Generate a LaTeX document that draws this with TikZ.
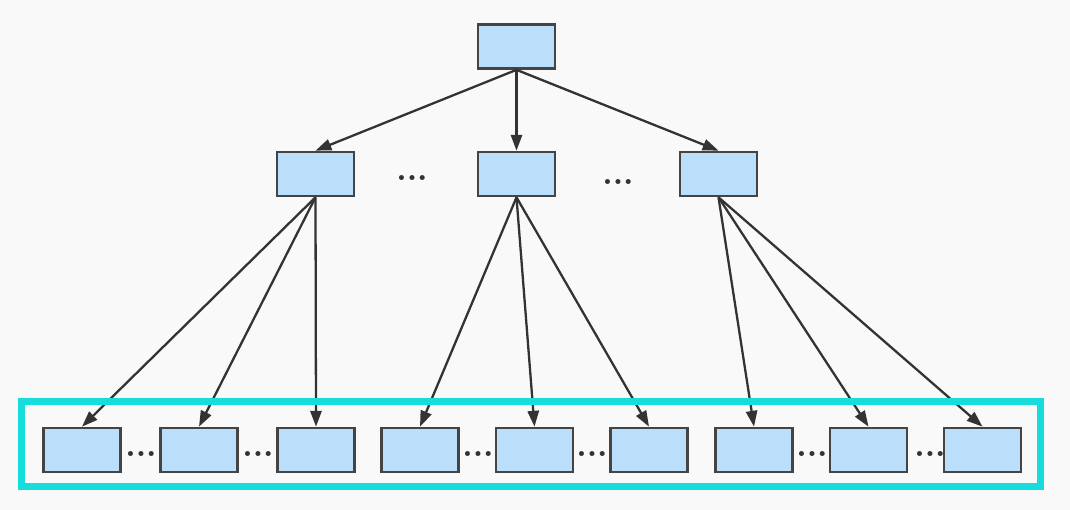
\documentclass[tikz,border=0pt]{standalone}
\usepackage{tikz}
\usetikzlibrary{arrows.meta,positioning}

\definecolor{bgcol}{RGB}{249,249,249}
\definecolor{boxfill}{RGB}{187,222,250}
\definecolor{boxline}{RGB}{68,68,68}
\definecolor{arrcol}{RGB}{51,51,51}
\definecolor{framecol}{RGB}{23,220,220}

\begin{document}
\begin{tikzpicture}[x=0.01cm, y=-0.01cm,
    blk/.style={draw=boxline, fill=boxfill, line width=0.75pt, minimum width=0.77cm, minimum height=0.44cm, inner sep=0pt},
    link/.style={-{Triangle[length=4.5pt, width=3.2pt]}, line width=0.65pt, arrcol},
    ellip/.style={font=\bfseries\small, text=arrcol, inner sep=0pt}]

    % Background
    \fill[bgcol] (0,0) rectangle (1070,510);
    \useasboundingbox (0,0) rectangle (1070,510);

    % Root
    \node[blk] (root) at (516.5,46.5) {};

    % Middle level
    \node[blk] (m1) at (315.5,174) {};
    \node[blk] (m2) at (516.5,174) {};
    \node[blk] (m3) at (718.5,174) {};
    \node[ellip] (d1) at (412,178) {...};
    \node[ellip] (d2) at (618,182) {...};

    % Leaf level
    \node[blk] (b1) at (82,450) {};
    \node[blk] (b2) at (199,450) {};
    \node[blk] (b3) at (316,450) {};
    \node[blk] (b4) at (420,450) {};
    \node[blk] (b5) at (534.5,450) {};
    \node[blk] (b6) at (649,450) {};
    \node[blk] (b7) at (754,450) {};
    \node[blk] (b8) at (868.5,450) {};
    \node[blk] (b9) at (982.5,450) {};

    \node[ellip] (e1) at (141,454) {...};
    \node[ellip] (e2) at (258,454) {...};
    \node[ellip] (e3) at (478,454) {...};
    \node[ellip] (e4) at (592,454) {...};
    \node[ellip] (e5) at (812,454) {...};
    \node[ellip] (e6) at (930,454) {...};

    % Arrows
    \draw[link] (root.south) -- (m1.north);
    \draw[link] (root.south) -- (m2.north);
    \draw[link] (root.south) -- (m3.north);

    \foreach \b in {b1,b2,b3} \draw[link] (m1.south) -- (\b.north);
    \foreach \b in {b4,b5,b6} \draw[link] (m2.south) -- (\b.north);
    \foreach \b in {b7,b8,b9} \draw[link] (m3.south) -- (\b.north);

    % Leaf frame
    \draw[framecol, line width=2pt] (21.5,401.5) rectangle (1040,486.5);

\end{tikzpicture}
\end{document}
